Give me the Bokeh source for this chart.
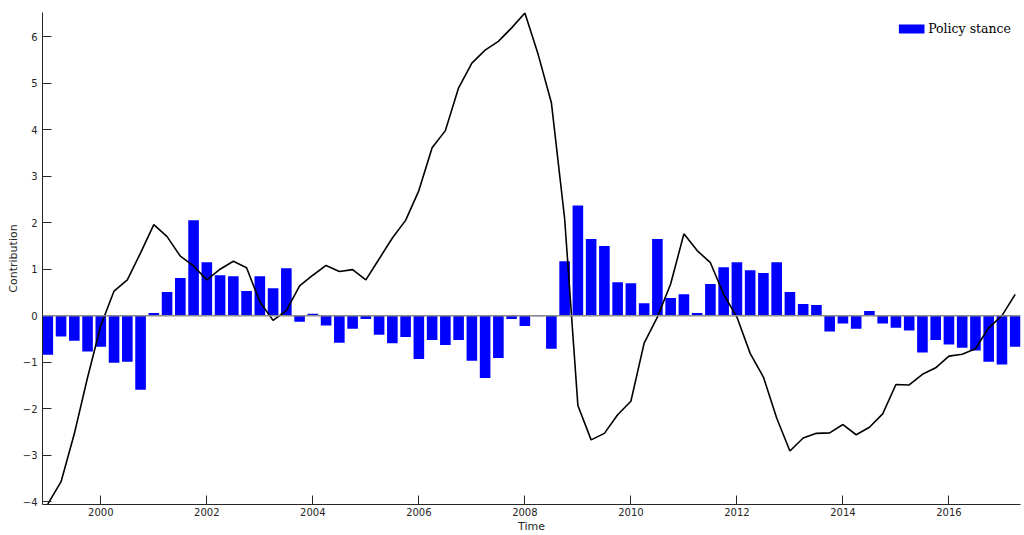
from bokeh.plotting import figure
from bokeh.models import FixedTicker, Range1d, Span, Legend, LegendItem, ColumnDataSource
from bokeh.embed import file_html
from bokeh.resources import INLINE

# Quarterly data, 1999Q1 .. 2017Q2
start_year = 1999
n_quarters = 74
time = [start_year + i / 4 for i in range(n_quarters)]

policy_stance = [
    -0.84, -0.45, -0.54, -0.77,
    -0.67, -1.01, -0.99, -1.59,
    0.06, 0.51, 0.81, 2.05,
    1.15, 0.87, 0.85, 0.53,
    0.85, 0.59, 1.02, -0.13,
    0.04, -0.21, -0.58, -0.28,
    -0.07, -0.41, -0.59, -0.46,
    -0.93, -0.52, -0.63, -0.52,
    -0.97, -1.34, -0.91, -0.07,
    -0.22, -0.01, -0.71, 1.17,
    2.37, 1.65, 1.50, 0.72,
    0.70, 0.27, 1.65, 0.38,
    0.46, 0.06, 0.68, 1.04,
    1.15, 0.98, 0.92, 1.15,
    0.51, 0.25, 0.23, -0.34,
    -0.17, -0.28, 0.10, -0.17,
    -0.26, -0.32, -0.79, -0.52,
    -0.62, -0.69, -0.75, -0.99,
    -1.05, -0.67,
]

total = [
    -4.05, -3.57, -2.54, -1.33,
    -0.21, 0.53, 0.77, 1.35,
    1.96, 1.70, 1.28, 1.07,
    0.77, 1.00, 1.17, 1.03,
    0.30, -0.10, 0.11, 0.64,
    0.87, 1.08, 0.95, 0.99,
    0.77, 1.22, 1.67, 2.05,
    2.69, 3.61, 3.98, 4.90,
    5.43, 5.71, 5.90, 6.19,
    6.51, 5.62, 4.58, 2.09,
    -1.93, -2.67, -2.53, -2.13,
    -1.84, -0.59, -0.03, 0.68,
    1.76, 1.40, 1.14, 0.46,
    -0.03, -0.81, -1.32, -2.20,
    -2.91, -2.63, -2.53, -2.52,
    -2.34, -2.56, -2.40, -2.11,
    -1.48, -1.49, -1.26, -1.12,
    -0.87, -0.83, -0.71, -0.26,
    0.0, 0.46,
]

x_ticks = [2000, 2002, 2004, 2006, 2008, 2010, 2012, 2014, 2016]
y_ticks = [-4, -3, -2, -1, 0, 1, 2, 3, 4, 5, 6]

src = ColumnDataSource(dict(t=time, bar=policy_stance, tot=total))

AX = "#262626"
p = figure(width=1024, height=535, output_backend="svg", toolbar_location=None,
           x_range=Range1d(1998.9, 2017.35), y_range=Range1d(-4.06, 6.52),
           min_border_left=42, min_border_top=12, min_border_right=4, min_border_bottom=30)
p.outline_line_color = None
p.grid.visible = False
p.background_fill_color = "white"

bars = p.vbar(x="t", top="bar", bottom=0, width=0.2, source=src,
              fill_color="#0000ff", line_color=None)
p.add_layout(Span(location=0, dimension="width", line_color="#8c8c8c", line_width=1.5))
p.line(x="t", y="tot", source=src, line_color="black", line_width=1.6)

for ax in (p.xaxis[0], p.yaxis[0]):
    ax.axis_line_color = AX
    ax.axis_line_width = 1
    ax.major_tick_line_color = AX
    ax.major_tick_in = 9
    ax.major_tick_out = 0
    ax.minor_tick_line_color = None
    ax.major_label_text_font = "DejaVu Sans"
    ax.major_label_text_font_size = "10px"
    ax.major_label_text_color = AX
    ax.axis_label_text_font = "DejaVu Sans"
    ax.axis_label_text_font_size = "11px"
    ax.axis_label_text_font_style = "normal"
    ax.axis_label_text_color = AX

p.xaxis.ticker = FixedTicker(ticks=x_ticks)
p.yaxis.ticker = FixedTicker(ticks=y_ticks)
p.xaxis.axis_label = "Time"
p.yaxis.axis_label = "Contribution"
p.xaxis.major_label_standoff = 3
p.xaxis.axis_label_standoff = 1
p.yaxis.major_label_standoff = 5
p.yaxis.axis_label_standoff = 0

legend = Legend(items=[LegendItem(label="Policy stance", renderers=[bars])],
                location="top_right", margin=9, padding=5,
                glyph_width=32, glyph_height=11, label_standoff=1,
                label_text_font="DejaVu Serif", label_text_font_size="12.5px",
                label_text_color="black",
                border_line_color=None, background_fill_alpha=0)
p.add_layout(legend)

open("out.html", "w").write(file_html(p, INLINE))
